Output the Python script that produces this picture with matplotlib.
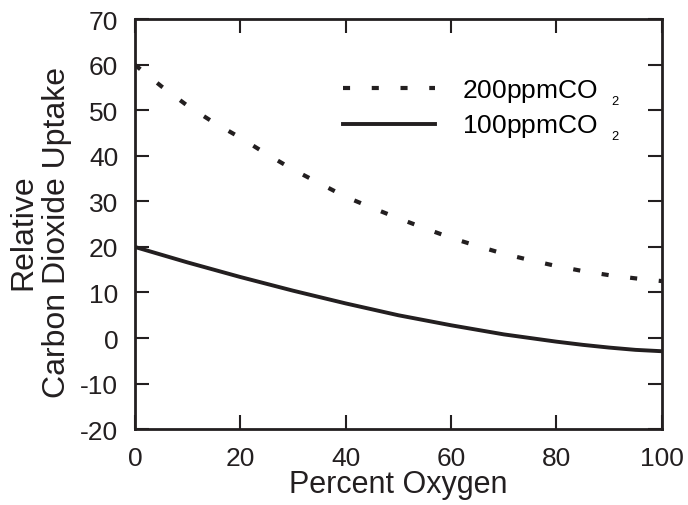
import matplotlib.pyplot as plt

plt.rcParams['font.family'] = ['Liberation Sans', 'DejaVu Sans']
plt.rcParams['mathtext.fontset'] = 'custom'
plt.rcParams['mathtext.rm'] = 'Liberation Sans'
plt.rcParams['mathtext.it'] = 'Liberation Sans'
plt.rcParams['axes.unicode_minus'] = False

# values
oxygen = [0, 5, 10, 15, 20, 25, 30, 35, 40, 45, 50,
          55, 60, 65, 70, 75, 80, 85, 90, 95, 100]
uptake_200 = [60, 55.3, 51, 47.3, 44, 40.4, 37, 34, 31, 28.6, 26.3,
              24.1, 22, 20.2, 18.5, 17.1, 15.8, 14.7, 13.8, 13.1, 12.5]
uptake_100 = [20, 18.3, 16.6, 15, 13.4, 11.9, 10.4, 9, 7.6, 6.3, 5.0,
              3.9, 2.8, 1.8, 0.8, 0, -0.8, -1.5, -2.1, -2.6, -2.9]

ink = '#231f20'

fig = plt.figure(figsize=(6.88, 5.06), dpi=100)
ax = fig.add_axes([0.196, 0.150, 0.766, 0.810])

ax.plot(oxygen, uptake_200, color=ink, lw=3, dashes=(1.7, 5.2),
        dash_capstyle='butt', label='200ppmCO  $_{_{2}}$')
ax.plot(oxygen, uptake_100, color=ink, lw=2.8, label='100ppmCO  $_{_{2}}$')

ax.set_xlim(0, 100)
ax.set_ylim(-20, 70)
ax.set_xticks(range(0, 101, 20))
ax.set_yticks(range(-20, 71, 10))
ax.tick_params(direction='in', length=10, width=1.5, top=True, right=True,
               labelsize=19, colors=ink, pad=12)
for s in ax.spines.values():
    s.set_linewidth(2)
    s.set_color(ink)

ax.set_xlabel('Percent Oxygen', fontsize=22, color=ink)
ax.xaxis.set_label_coords(0.5, -0.098)
ax.set_ylabel('Relative\nCarbon Dioxide Uptake', fontsize=23,
              color=ink, linespacing=1.16)
ax.yaxis.set_label_coords(-0.12, 0.483)

ax.legend(loc='upper left', frameon=False, fontsize=19, handlelength=3.5,
          borderpad=0, borderaxespad=0, labelspacing=0.25,
          handletextpad=1.0, bbox_to_anchor=(0.395, 0.858))

plt.savefig('out.png', format='png')
